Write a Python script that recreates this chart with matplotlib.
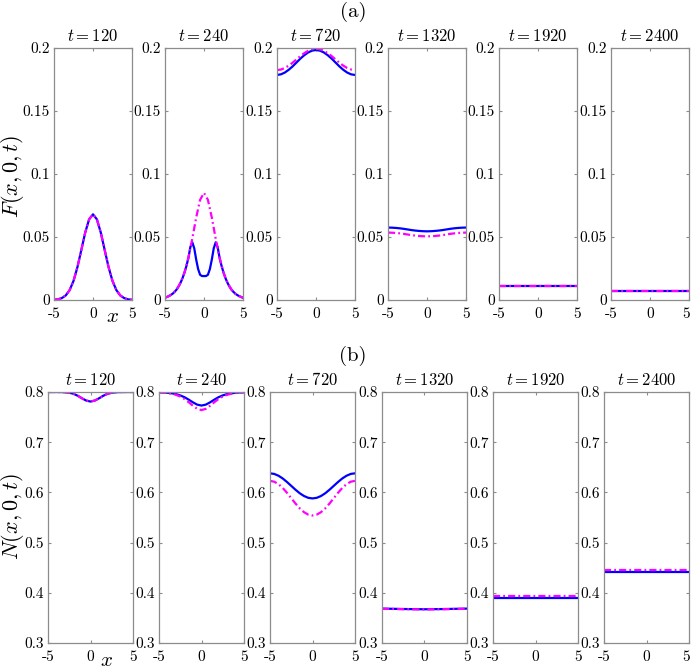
import numpy as np
import matplotlib
matplotlib.use("Agg")
import matplotlib.pyplot as plt
from matplotlib.transforms import ScaledTranslation

# Times shown in each column
times = [120, 240, 720, 1320, 1920, 2400]

# Sample grids along x
x_half = np.arange(-5, 5.01, 0.5)      # 21 points
x_quarter = np.arange(-5, 5.01, 0.25)  # 41 points
x_flat = np.array([-5, -2.5, 0, 2.5, 5])

# (a) F(x,0,t): blue solid
F120_blue = [0.0002, 0.0005, 0.0015, 0.0036, 0.0078, 0.0151, 0.0260, 0.0396, 0.0535, 0.0640, 0.0680,
             0.0640, 0.0535, 0.0396, 0.0260, 0.0151, 0.0078, 0.0036, 0.0015, 0.0005, 0.0002]
F240_blue = [0.0018, 0.0024, 0.0031, 0.0040, 0.0051, 0.0066, 0.0084, 0.0108, 0.0138, 0.0174,
             0.0218, 0.0271, 0.0334, 0.0420, 0.0458, 0.0410, 0.0320, 0.0245, 0.0200, 0.0190,
             0.0190,
             0.0190, 0.0200, 0.0245, 0.0320, 0.0410, 0.0458, 0.0420, 0.0334, 0.0271, 0.0218,
             0.0174, 0.0138, 0.0108, 0.0084, 0.0066, 0.0051, 0.0040, 0.0031, 0.0024, 0.0018]
F720_blue = [0.1786, 0.1791, 0.1805, 0.1827, 0.1854, 0.1885, 0.1916, 0.1943, 0.1965, 0.1979, 0.1984,
             0.1979, 0.1965, 0.1943, 0.1916, 0.1885, 0.1854, 0.1827, 0.1805, 0.1791, 0.1786]
F1320_blue = [0.0575, 0.0574, 0.0572, 0.0569, 0.0565, 0.0560, 0.0555, 0.0551, 0.0548, 0.0546, 0.0545,
              0.0546, 0.0548, 0.0551, 0.0555, 0.0560, 0.0565, 0.0569, 0.0572, 0.0574, 0.0575]
F1920_blue = [0.0115, 0.0115, 0.0115, 0.0115, 0.0115]
F2400_blue = [0.0074, 0.0074, 0.0074, 0.0074, 0.0074]

# (a) F(x,0,t): magenta dash-dot
F120_mag = [0.0002, 0.0005, 0.0015, 0.0036, 0.0078, 0.0151, 0.0260, 0.0396, 0.0535, 0.0640, 0.0680,
            0.0640, 0.0535, 0.0396, 0.0260, 0.0151, 0.0078, 0.0036, 0.0015, 0.0005, 0.0002]
F240_mag = [0.0018, 0.0031, 0.0051, 0.0084, 0.0138, 0.0218, 0.0334, 0.0487, 0.0655, 0.0795, 0.0850,
            0.0795, 0.0655, 0.0487, 0.0334, 0.0218, 0.0138, 0.0084, 0.0051, 0.0031, 0.0018]
F720_mag = [0.1825, 0.1829, 0.1841, 0.1860, 0.1883, 0.1910, 0.1936, 0.1959, 0.1978, 0.1990, 0.1994,
            0.1990, 0.1978, 0.1959, 0.1936, 0.1910, 0.1883, 0.1860, 0.1841, 0.1829, 0.1825]
F1320_mag = [0.0535, 0.0534, 0.0532, 0.0529, 0.0525, 0.0520, 0.0515, 0.0511, 0.0508, 0.0506, 0.0505,
             0.0506, 0.0508, 0.0511, 0.0515, 0.0520, 0.0525, 0.0529, 0.0532, 0.0534, 0.0535]
F1920_mag = [0.0115, 0.0115, 0.0115, 0.0115, 0.0115]
F2400_mag = [0.0074, 0.0074, 0.0074, 0.0074, 0.0074]

# (b) N(x,0,t): blue solid
N120_blue = [0.8000, 0.8000, 0.8000, 0.7999, 0.7995, 0.7986, 0.7964, 0.7925, 0.7874, 0.7829, 0.7810,
             0.7829, 0.7874, 0.7925, 0.7964, 0.7986, 0.7995, 0.7999, 0.8000, 0.8000, 0.8000]
N240_blue = [0.7994, 0.7991, 0.7984, 0.7974, 0.7958, 0.7932, 0.7896, 0.7847, 0.7793, 0.7748, 0.7730,
             0.7748, 0.7793, 0.7847, 0.7896, 0.7932, 0.7958, 0.7974, 0.7984, 0.7991, 0.7994]
N720_blue = [0.6380, 0.6368, 0.6332, 0.6277, 0.6207, 0.6130, 0.6053, 0.5983, 0.5928, 0.5892, 0.5880,
             0.5892, 0.5928, 0.5983, 0.6053, 0.6130, 0.6207, 0.6277, 0.6332, 0.6368, 0.6380]
N1320_blue = [0.3685, 0.3677, 0.3672, 0.3677, 0.3685]
N1920_blue = [0.3895, 0.3895, 0.3895, 0.3895, 0.3895]
N2400_blue = [0.4420, 0.4420, 0.4420, 0.4420, 0.4420]

# (b) N(x,0,t): magenta dash-dot
N120_mag = [0.8000, 0.8000, 0.8000, 0.7999, 0.7995, 0.7986, 0.7964, 0.7925, 0.7874, 0.7829, 0.7810,
            0.7829, 0.7874, 0.7925, 0.7964, 0.7986, 0.7995, 0.7999, 0.8000, 0.8000, 0.8000]
N240_mag = [0.7993, 0.7988, 0.7979, 0.7966, 0.7943, 0.7910, 0.7861, 0.7796, 0.7724, 0.7664, 0.7640,
            0.7664, 0.7724, 0.7796, 0.7861, 0.7910, 0.7943, 0.7966, 0.7979, 0.7988, 0.7993]
N720_mag = [0.6230, 0.6213, 0.6164, 0.6088, 0.5992, 0.5885, 0.5778, 0.5682, 0.5606, 0.5557, 0.5540,
            0.5557, 0.5606, 0.5682, 0.5778, 0.5885, 0.5992, 0.6088, 0.6164, 0.6213, 0.6230]
N1320_mag = [0.3682, 0.3674, 0.3669, 0.3674, 0.3682]
N1920_mag = [0.3930, 0.3930, 0.3930, 0.3930, 0.3930]
N2400_mag = [0.4455, 0.4455, 0.4455, 0.4455, 0.4455]

F_x_blue = [x_half, x_quarter, x_half, x_half, x_flat, x_flat]
F_x_mag = [x_half, x_half, x_half, x_half, x_flat, x_flat]
N_x = [x_half, x_half, x_half, x_flat, x_flat, x_flat]

F_blue = [F120_blue, F240_blue, F720_blue, F1320_blue, F1920_blue, F2400_blue]
F_mag = [F120_mag, F240_mag, F720_mag, F1320_mag, F1920_mag, F2400_mag]
N_blue = [N120_blue, N240_blue, N720_blue, N1320_blue, N1920_blue, N2400_blue]
N_mag = [N120_mag, N240_mag, N720_mag, N1320_mag, N1920_mag, N2400_mag]

F_yticks = [0, 0.05, 0.1, 0.15, 0.2]
F_yticklabels = ['0', '0.05', '0.1', '0.15', '0.2']
N_yticks = [0.3, 0.4, 0.5, 0.6, 0.7, 0.8]
N_yticklabels = ['0.3', '0.4', '0.5', '0.6', '0.7', '0.8']
xticks = [-5, 0, 5]
xticklabels = ['-5', '0', '5']

plt.rcParams['font.family'] = 'cmr10'
plt.rcParams['mathtext.fontset'] = 'cm'

W, H = 691, 670
SPINE = '#8c8c8c'


def style_axes(ax, yticks, yticklabels, ylim):
    ax.set_xlim(-5, 5)
    ax.set_ylim(*ylim)
    ax.set_xticks(xticks)
    ax.set_xticklabels(xticklabels)
    ax.set_yticks(yticks)
    ax.set_yticklabels(yticklabels)
    ax.tick_params(direction='in', top=True, right=True, length=2.5, width=0.8,
                   color=SPINE, labelsize=11, pad=3)
    ax.tick_params(axis='x', pad=5)
    for s in ax.spines.values():
        s.set_color(SPINE)
        s.set_linewidth(0.9)


def draw_row(fig, lefts, width, top, bottom, xs_blue, xs_mag, blues, mags, yticks, yticklabels, ylim):
    for i in range(6):
        ax = fig.add_axes([lefts[i] / W, 1 - bottom / H, width / W, (bottom - top) / H])
        ax.plot(xs_blue[i], blues[i], color='#0000ff', lw=1.6, ls='-')
        ax.plot(xs_mag[i], mags[i], color='#ff00ff', lw=1.6, ls='-.', dashes=(3.2, 1.4, 0.8, 1.4))
        style_axes(ax, yticks, yticklabels, ylim)
        ax.set_title(r'$t = %d$' % times[i], fontsize=12, pad=5)
        if i == 5:
            # keep the last "5" inside the figure edge
            lab = ax.get_xticklabels()[-1]
            lab.set_transform(lab.get_transform() + ScaledTranslation(-3 / 100, 0, fig.dpi_scale_trans))


def main():
    fig = plt.figure(figsize=(W / 100, H / 100), dpi=100)

    draw_row(fig, [54, 165, 277, 388, 499, 611], 78, 48, 300,
             F_x_blue, F_x_mag, F_blue, F_mag, F_yticks, F_yticklabels, (0, 0.2))
    draw_row(fig, [48, 159, 270, 382, 493, 604], 85, 392, 643,
             N_x, N_x, N_blue, N_mag, N_yticks, N_yticklabels, (0.3, 0.8))

    fig.text(353 / W, 1 - 12 / H, '(a)', fontsize=15, ha='center', va='center')
    fig.text(353 / W, 1 - 356 / H, '(b)', fontsize=15, ha='center', va='center')

    fig.text(12 / W, 1 - 176 / H, r'$F(x,0,t)$', fontsize=16, rotation=90, ha='center', va='center')
    fig.text(12 / W, 1 - 517 / H, r'$N(x,0,t)$', fontsize=16, rotation=90, ha='center', va='center')
    fig.text(112 / W, 1 - 317 / H, r'$x$', fontsize=15, ha='center', va='center')
    fig.text(107 / W, 1 - 661 / H, r'$x$', fontsize=15, ha='center', va='center')

    fig.savefig('out.png', dpi=100)
    plt.close(fig)


if __name__ == "__main__":
    main()
